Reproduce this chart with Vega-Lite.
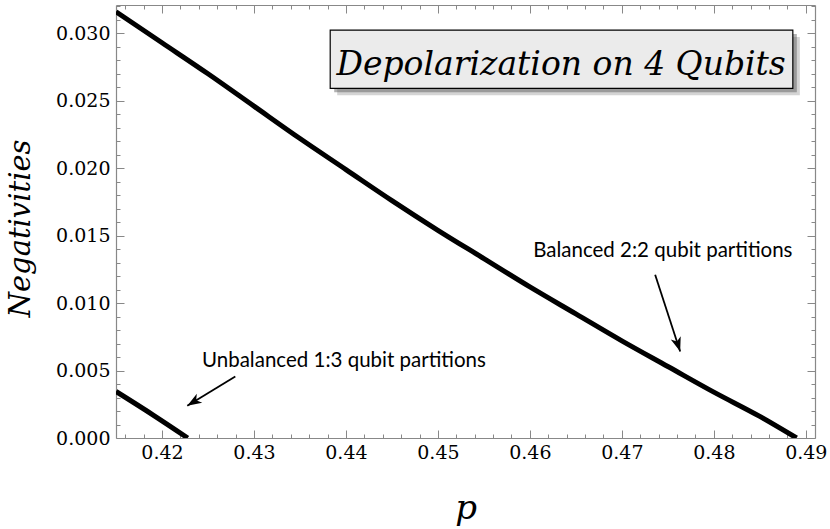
{
  "$schema": "https://vega.github.io/schema/vega-lite/v6.json",
  "width": 699,
  "height": 433,
  "autosize": {"type": "none"},
  "padding": {"left": 116, "top": 5, "right": 15, "bottom": 91},
  "background": "white",
  "config": {"view": {"stroke": null}},
  "datasets": {
    "curves": [
      {"p": 0.415, "neg": 0.0316, "series": "Balanced 2:2"},
      {"p": 0.42, "neg": 0.0293, "series": "Balanced 2:2"},
      {"p": 0.425, "neg": 0.0270, "series": "Balanced 2:2"},
      {"p": 0.43, "neg": 0.0246, "series": "Balanced 2:2"},
      {"p": 0.435, "neg": 0.0222, "series": "Balanced 2:2"},
      {"p": 0.44, "neg": 0.0199, "series": "Balanced 2:2"},
      {"p": 0.445, "neg": 0.0176, "series": "Balanced 2:2"},
      {"p": 0.45, "neg": 0.0154, "series": "Balanced 2:2"},
      {"p": 0.455, "neg": 0.0133, "series": "Balanced 2:2"},
      {"p": 0.46, "neg": 0.0112, "series": "Balanced 2:2"},
      {"p": 0.465, "neg": 0.0092, "series": "Balanced 2:2"},
      {"p": 0.47, "neg": 0.0072, "series": "Balanced 2:2"},
      {"p": 0.475, "neg": 0.0053, "series": "Balanced 2:2"},
      {"p": 0.48, "neg": 0.0034, "series": "Balanced 2:2"},
      {"p": 0.485, "neg": 0.0016, "series": "Balanced 2:2"},
      {"p": 0.489, "neg": 0.0, "series": "Balanced 2:2"},
      {"p": 0.415, "neg": 0.00345, "series": "Unbalanced 1:3"},
      {"p": 0.419, "neg": 0.00172, "series": "Unbalanced 1:3"},
      {"p": 0.4228, "neg": 0.0, "series": "Unbalanced 1:3"}
    ],
    "arrows": [
      {"name": "unbalanced", "p": 0.42797, "neg": 0.00456, "p2": 0.42275, "neg2": 0.00239},
      {"name": "balanced", "p": 0.47362, "neg": 0.01210, "p2": 0.47634, "neg2": 0.00641}
    ],
    "labels": [
      {"text": "Unbalanced 1:3 qubit partitions", "p": 0.42435, "neg": 0.0053},
      {"text": "Balanced 2:2 qubit partitions", "p": 0.46036, "neg": 0.01345}
    ],
    "box": [
      {"p1": 0.43829, "p2": 0.48859, "n1": 0.025926, "n2": 0.030244, "title": "Depolarization on 4 Qubits", "pc": 0.4634, "nc": 0.02691}
    ]
  },
  "resolve": {"axis": {"x": "independent", "y": "independent"}},
  "layer": [
    {
      "data": {"name": "curves"},
      "mark": {"type": "line", "color": "black", "strokeWidth": 5, "clip": true, "interpolate": "monotone"},
      "encoding": {
        "x": {
          "field": "p", "type": "quantitative",
          "scale": {"domain": [0.415, 0.491], "nice": false, "zero": false},
          "axis": {
            "orient": "bottom",
            "values": [0.416,0.418,0.42,0.422,0.424,0.426,0.428,0.43,0.432,0.434,0.436,0.438,0.44,0.442,0.444,0.446,0.448,0.45,0.452,0.454,0.456,0.458,0.46,0.462,0.464,0.466,0.468,0.47,0.472,0.474,0.476,0.478,0.48,0.482,0.484,0.486,0.488,0.49],
            "labelExpr": "abs(datum.value*100 - round(datum.value*100)) < 0.01 ? format(datum.value, '.2f') : ''",
            "labelOverlap": false, "labelFlush": false, "labelBound": false,
            "labelFont": "DejaVu Serif", "labelFontSize": 19, "labelColor": "black",
            "labelPadding": 13,
            "tickSize": {"condition": {"test": "abs(datum.value*100 - round(datum.value*100)) < 0.01", "value": -8}, "value": -4},
            "tickColor": "#888888", "tickWidth": 1,
            "domainColor": "#888888", "domainWidth": 1.2,
            "grid": false,
            "title": "p", "titleFont": "DejaVu Serif", "titleFontStyle": "italic", "titleFontWeight": "normal",
            "titleFontSize": 34, "titleColor": "black", "titlePadding": 25
          }
        },
        "y": {
          "field": "neg", "type": "quantitative",
          "scale": {"domain": [0, 0.0321], "nice": false, "zero": false},
          "axis": {
            "orient": "left",
            "values": [0,0.001,0.002,0.003,0.004,0.005,0.006,0.007,0.008,0.009,0.01,0.011,0.012,0.013,0.014,0.015,0.016,0.017,0.018,0.019,0.02,0.021,0.022,0.023,0.024,0.025,0.026,0.027,0.028,0.029,0.03,0.031,0.032],
            "labelExpr": "abs(datum.value*200 - round(datum.value*200)) < 0.01 ? format(datum.value, '.3f') : ''",
            "labelOverlap": false, "labelFlush": false, "labelBound": false,
            "labelFont": "DejaVu Serif", "labelFontSize": 19, "labelColor": "black",
            "labelPadding": 14,
            "tickSize": {"condition": {"test": "abs(datum.value*200 - round(datum.value*200)) < 0.01", "value": -8}, "value": -4},
            "tickColor": "#888888", "tickWidth": 1,
            "domainColor": "#888888", "domainWidth": 1.2,
            "grid": false,
            "title": "Negativities", "titleFont": "DejaVu Serif", "titleFontStyle": "italic", "titleFontWeight": "normal",
            "titleFontSize": 29, "titleColor": "black", "titleX": -96, "titleY": 223, "titleBaseline": "middle", "titleAlign": "center", "titleAngle": -90
          }
        },
        "detail": {"field": "series", "type": "nominal"}
      }
    },
    {
      "data": {"name": "arrows"},
      "mark": {"type": "rule", "color": "black", "strokeWidth": 1.8},
      "encoding": {
        "x": {
          "field": "p", "type": "quantitative",
          "axis": {
            "orient": "top",
            "values": [0.416,0.418,0.42,0.422,0.424,0.426,0.428,0.43,0.432,0.434,0.436,0.438,0.44,0.442,0.444,0.446,0.448,0.45,0.452,0.454,0.456,0.458,0.46,0.462,0.464,0.466,0.468,0.47,0.472,0.474,0.476,0.478,0.48,0.482,0.484,0.486,0.488,0.49],
            "labels": false,
            "tickSize": {"condition": {"test": "abs(datum.value*100 - round(datum.value*100)) < 0.01", "value": -8}, "value": -4},
            "tickColor": "#888888", "tickWidth": 1,
            "domainColor": "#888888", "domainWidth": 1.2,
            "grid": false, "title": null
          }
        },
        "y": {
          "field": "neg", "type": "quantitative",
          "axis": {
            "orient": "right",
            "values": [0,0.001,0.002,0.003,0.004,0.005,0.006,0.007,0.008,0.009,0.01,0.011,0.012,0.013,0.014,0.015,0.016,0.017,0.018,0.019,0.02,0.021,0.022,0.023,0.024,0.025,0.026,0.027,0.028,0.029,0.03,0.031,0.032],
            "labels": false,
            "tickSize": {"condition": {"test": "abs(datum.value*200 - round(datum.value*200)) < 0.01", "value": -8}, "value": -4},
            "tickColor": "#888888", "tickWidth": 1,
            "domainColor": "#888888", "domainWidth": 1.2,
            "grid": false, "title": null
          }
        },
        "x2": {"field": "p2"},
        "y2": {"field": "neg2"}
      }
    },
    {
      "data": {"name": "arrows"},
      "transform": [{"filter": "datum.name === 'unbalanced'"}],
      "mark": {"type": "point", "shape": "M0,0L-0.8,2.2L0,1.6L0.8,2.2Z", "filled": true, "color": "black", "opacity": 1, "size": 170, "angle": 238.6},
      "encoding": {
        "x": {"field": "p2", "type": "quantitative", "axis": null},
        "y": {"field": "neg2", "type": "quantitative", "axis": null}
      }
    },
    {
      "data": {"name": "arrows"},
      "transform": [{"filter": "datum.name === 'balanced'"}],
      "mark": {"type": "point", "shape": "M0,0L-0.8,2.2L0,1.6L0.8,2.2Z", "filled": true, "color": "black", "opacity": 1, "size": 170, "angle": 162},
      "encoding": {
        "x": {"field": "p2", "type": "quantitative", "axis": null},
        "y": {"field": "neg2", "type": "quantitative", "axis": null}
      }
    },
    {
      "data": {"name": "labels"},
      "mark": {"type": "text", "font": "Lato", "fontSize": 20.5, "align": "left", "baseline": "alphabetic", "color": "black"},
      "encoding": {
        "x": {"field": "p", "type": "quantitative", "axis": null},
        "y": {"field": "neg", "type": "quantitative", "axis": null},
        "text": {"field": "text"}
      }
    },
    {
      "data": {"name": "box"},
      "mark": {"type": "rect", "fill": "#555555", "opacity": 0.25, "xOffset": 7, "x2Offset": 7, "yOffset": 7, "y2Offset": 7},
      "encoding": {
        "x": {"field": "p1", "type": "quantitative", "axis": null},
        "x2": {"field": "p2"},
        "y": {"field": "n1", "type": "quantitative", "axis": null},
        "y2": {"field": "n2"}
      }
    },
    {
      "data": {"name": "box"},
      "mark": {"type": "rect", "fill": "#555555", "opacity": 0.45, "xOffset": 4, "x2Offset": 4, "yOffset": 4, "y2Offset": 4},
      "encoding": {
        "x": {"field": "p1", "type": "quantitative", "axis": null},
        "x2": {"field": "p2"},
        "y": {"field": "n1", "type": "quantitative", "axis": null},
        "y2": {"field": "n2"}
      }
    },
    {
      "data": {"name": "box"},
      "mark": {"type": "rect", "fill": "#ebebeb", "stroke": "black", "strokeWidth": 1.2},
      "encoding": {
        "x": {"field": "p1", "type": "quantitative", "axis": null},
        "x2": {"field": "p2"},
        "y": {"field": "n1", "type": "quantitative", "axis": null},
        "y2": {"field": "n2"}
      }
    },
    {
      "data": {"name": "box"},
      "mark": {"type": "text", "font": "DejaVu Serif", "fontStyle": "italic", "fontSize": 33, "align": "center", "baseline": "alphabetic", "color": "black"},
      "encoding": {
        "x": {"field": "pc", "type": "quantitative", "axis": null},
        "y": {"field": "nc", "type": "quantitative", "axis": null},
        "text": {"field": "title"}
      }
    }
  ]
}
